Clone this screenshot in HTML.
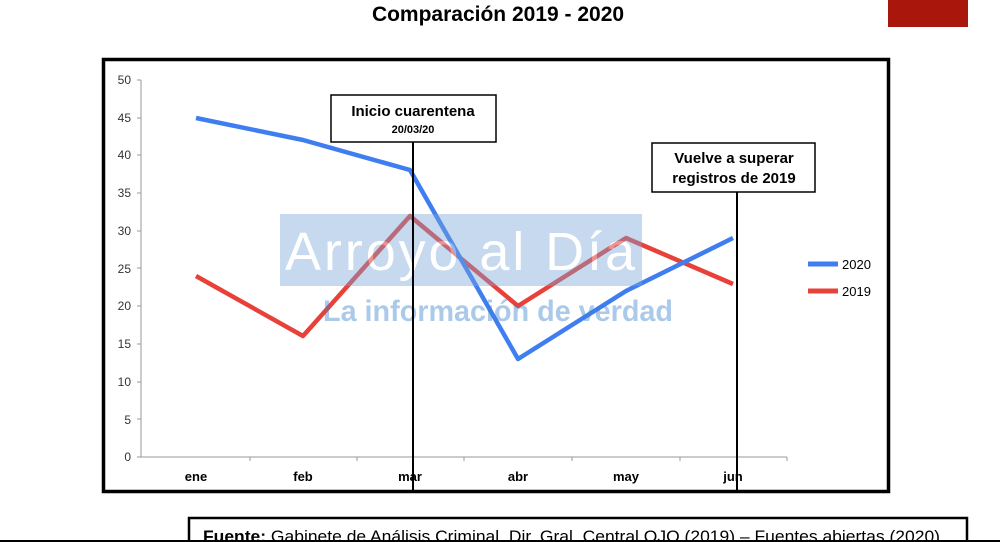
<!DOCTYPE html>
<html><head><meta charset="utf-8"><style>
body{margin:0;width:1000px;height:542px;overflow:hidden;background:#fff;font-family:"Liberation Sans",sans-serif}
</style></head><body>
<svg width="1000" height="542" xmlns="http://www.w3.org/2000/svg" style="position:absolute;left:0;top:0">
<rect x="888" y="0" width="80" height="27" fill="#a8160c"/>
<text x="498" y="21" text-anchor="middle" font-size="21" font-weight="bold" font-family="Liberation Sans">Comparación 2019 - 2020</text>
<rect x="103.5" y="59.5" width="785" height="432" fill="#fff" stroke="#000" stroke-width="3.5"/>
<g stroke="#999" stroke-width="1">
<line x1="141" y1="80" x2="141" y2="457"/>
<line x1="141" y1="457" x2="787" y2="457"/>
</g>
<g font-size="12" fill="#333" text-anchor="end" font-family="Liberation Sans">
<text x="131" y="461">0</text><text x="131" y="424">5</text><text x="131" y="386">10</text><text x="131" y="348">15</text><text x="131" y="310">20</text><text x="131" y="273">25</text><text x="131" y="235">30</text><text x="131" y="197">35</text><text x="131" y="159">40</text><text x="131" y="122">45</text><text x="131" y="84">50</text>
</g>
<g stroke="#999"><line x1="137" y1="457" x2="141" y2="457"/><line x1="137" y1="419" x2="141" y2="419"/><line x1="137" y1="382" x2="141" y2="382"/><line x1="137" y1="344" x2="141" y2="344"/><line x1="137" y1="306" x2="141" y2="306"/><line x1="137" y1="268" x2="141" y2="268"/><line x1="137" y1="231" x2="141" y2="231"/><line x1="137" y1="193" x2="141" y2="193"/><line x1="137" y1="155" x2="141" y2="155"/><line x1="137" y1="118" x2="141" y2="118"/><line x1="137" y1="80" x2="141" y2="80"/>
<line x1="250" y1="457" x2="250" y2="461"/><line x1="357" y1="457" x2="357" y2="461"/><line x1="464" y1="457" x2="464" y2="461"/><line x1="572" y1="457" x2="572" y2="461"/><line x1="680" y1="457" x2="680" y2="461"/><line x1="787" y1="457" x2="787" y2="461"/></g>
<g font-size="13" font-weight="bold" text-anchor="middle" font-family="Liberation Sans">
<text x="196" y="481">ene</text><text x="303" y="481">feb</text><text x="410" y="481">mar</text><text x="518" y="481">abr</text><text x="626" y="481">may</text><text x="733" y="481">jun</text></g>
<polyline points="196,276 303,336 410,216 518,306 626,238 733,284" fill="none" stroke="#e8413a" stroke-width="4.5" stroke-linejoin="round"/>
<polyline points="196,118 303,140 410,170 518,359 626,291 733,238" fill="none" stroke="#3f7ef0" stroke-width="4.5" stroke-linejoin="round"/>
<g opacity="0.42">
<rect x="280" y="214" width="362" height="72" fill="#7aa6d8"/>
<text x="460" y="270" text-anchor="middle" font-size="54" fill="#fff" font-family="Liberation Sans" textLength="350">Arroyo al Día</text>
<text x="498" y="321" text-anchor="middle" font-size="30" font-weight="bold" fill="#3a82cc" font-family="Liberation Sans" textLength="350" lengthAdjust="spacingAndGlyphs">La información de verdad</text>
</g>
<line x1="413" y1="142" x2="413" y2="490" stroke="#000" stroke-width="2"/>
<line x1="737" y1="191" x2="737" y2="490" stroke="#000" stroke-width="2"/>
<rect x="331" y="95" width="165" height="47" fill="#fff" stroke="#000" stroke-width="1.5"/>
<text x="413" y="116" text-anchor="middle" font-size="15" font-weight="bold" font-family="Liberation Sans">Inicio cuarentena</text>
<text x="413" y="133" text-anchor="middle" font-size="11" font-weight="bold" font-family="Liberation Sans">20/03/20</text>
<rect x="652" y="143" width="163" height="49" fill="#fff" stroke="#000" stroke-width="1.5"/>
<text x="734" y="163" text-anchor="middle" font-size="15" font-weight="bold" font-family="Liberation Sans">Vuelve a superar</text>
<text x="734" y="183" text-anchor="middle" font-size="15" font-weight="bold" font-family="Liberation Sans">registros de 2019</text>
<line x1="808" y1="264" x2="838" y2="264" stroke="#3f7ef0" stroke-width="5"/>
<text x="842" y="269" font-size="13" font-family="Liberation Sans">2020</text>
<line x1="808" y1="291" x2="838" y2="291" stroke="#e8413a" stroke-width="5"/>
<text x="842" y="296" font-size="13" font-family="Liberation Sans">2019</text>
<rect x="189" y="518" width="778" height="30" fill="#fff" stroke="#000" stroke-width="2.5"/>
<text x="203" y="542" font-size="17" font-family="Liberation Sans" textLength="737" lengthAdjust="spacingAndGlyphs"><tspan font-weight="bold">Fuente:</tspan> Gabinete de Análisis Criminal, Dir. Gral. Central OJO (2019) – Fuentes abiertas (2020)</text>
<line x1="0" y1="541" x2="1000" y2="541" stroke="#000" stroke-width="2"/>
</svg>
</body></html>
